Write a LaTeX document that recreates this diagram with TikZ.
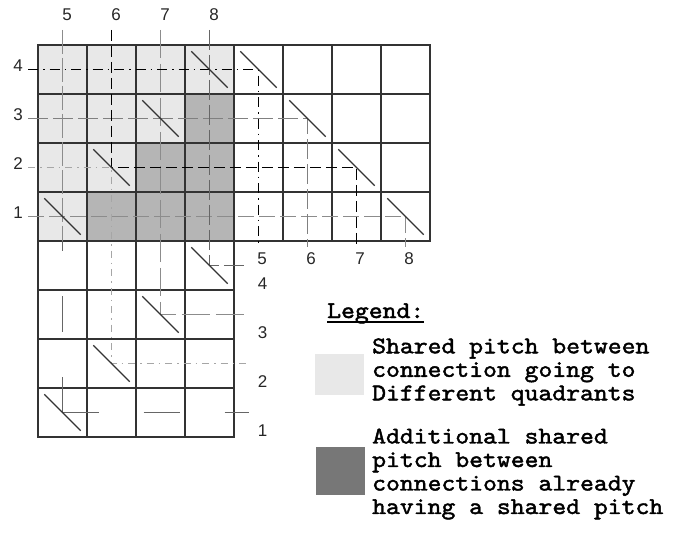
\documentclass[tikz,border=0pt]{standalone}
\usepackage{fontspec}
\usetikzlibrary{positioning}
\newfontfamily\pinfont{Liberation Sans}
\newfontfamily\legendfont[FakeBold=1.8, FakeStretch=1.1]{lmmono10-regular.otf}
\definecolor{gridcol}{HTML}{333333}
\definecolor{lightpitch}{HTML}{E8E8E8}
\definecolor{darkpitch}{HTML}{B5B5B5}
\definecolor{legenddark}{HTML}{777777}

\begin{document}
\begin{tikzpicture}[
    x=1pt, y=-1pt,
    cell/.style={draw=gridcol, line width=1.4pt, line cap=rect},
    via/.style={draw=gridcol, line width=1.1pt},
    pin/.style={font=\pinfont\fontsize{17}{17}\selectfont, inner sep=0pt, text=black!85},
    legtext/.style={font=\legendfont\fontsize{24}{23.5}\selectfont, align=left, inner sep=0pt},
    swatch/.style={minimum width=49pt, inner sep=0pt},
    routeA/.style={draw=black!45, line width=1.3pt, dash pattern=on 24pt off 4pt},
    routeAfar/.style={draw=black!60, line width=1.3pt, dash pattern=on 36pt off 45pt},
    routeB/.style={draw=black, line width=1.5pt, dash pattern=on 11pt off 5pt},
    routeC/.style={draw=black, line width=1.3pt, dash pattern=on 10pt off 5pt on 1.5pt off 5pt},
    routeD/.style={draw=black!50, line width=1.2pt, dash pattern=on 20pt off 5pt},
    routeE/.style={draw=black!35, line width=1pt, dash pattern=on 7pt off 5pt on 1.5pt off 5pt},
    routeF/.style={draw=black!45, line width=1.2pt, dash pattern=on 16pt off 5pt},
    routeG/.style={draw=black!45, line width=1.3pt, dash pattern=on 28pt off 6pt},
    routeH/.style={draw=black!60, line width=1.3pt, dash pattern=on 20pt off 5pt}
]
\useasboundingbox (0,0) rectangle (686,533);

% pin grid, one unit = one pitch
\begin{scope}[xshift=38pt, yshift=-45pt, x=49pt, y=-49pt]
\fill[lightpitch] (0,0) rectangle (4,4);
\foreach \c/\r in {4/2,4/3,4/4,3/3,3/4,2/4}
    \fill[darkpitch] ({\c-1},{\r-1}) rectangle (\c,\r);

\foreach \i in {0,...,8} \draw[cell] (\i,0) -- (\i,4);
\foreach \j in {0,...,4} \draw[cell] (0,\j) -- (8,\j);
\foreach \i in {0,...,4} \draw[cell] (\i,4) -- (\i,8);
\foreach \j in {5,...,8} \draw[cell] (0,\j) -- (4,\j);

% connection ends
\foreach \n/\x in {5/0.5,6/1.5,7/2.5,8/3.5} {
    \coordinate (t\n) at (\x,-0.31);
    \node[pin] (lt\n) at ([shift={(4.5pt,15pt)}]t\n) {\n};
}
\foreach \n/\y in {4/0.5,3/1.5,2/2.5,1/3.5} {
    \coordinate (l\n) at (-0.2,\y);
    \node[pin] (ll\n) at ([shift={(-10pt,4pt)}]l\n) {\n};
}
\foreach \n/\x in {5/4.5,6/5.5,7/6.5,8/7.5} {
    \coordinate (b\n) at (\x,4.12);
    \node[pin] (lb\n) at ([shift={(3.5pt,-12pt)}]b\n) {\n};
}
\foreach \n/\y in {4/4.5,3/5.5,2/6.5,1/7.5} {
    \coordinate (r\n) at (4.3,\y);
    \node[pin] (lr\n) at ([shift={(14pt,-18.5pt)}]r\n) {\n};
}

% bends
\coordinate (k5) at (0.5,4);
\coordinate (k1) at (0.5,7.5);
\coordinate (k6) at (6.5,2.5);
\coordinate (k2) at (1.5,6.5);

\draw[routeE] (l2) -| (k2) -- (r2);
\draw[routeF] (l1) -| (b8);
\draw[routeD] (l3) -| (b6);
\draw[routeG] (t7) |- (r3);
\draw[routeH] (t8) |- (r4);
\draw[routeA] (t5) -- (k5);
\draw[routeAfar] (k1) -- (k5);
\draw[routeAfar] (k1) -- (r1);
\draw[routeC] (l4) -| (b5);
\draw[routeB] (t6) |- (k6) -- (b7);

\foreach \c/\r in {1/4,2/3,3/2,4/1,5/1,6/2,7/3,8/4,4/5,3/6,2/7,1/8}
    \draw[via] ({\c-0.87},{\r-0.87}) -- ({\c-0.13},{\r-0.13});
\end{scope}

% legend
\node[legtext, anchor=base west] (legtitle) at (327,318) {Legend:};
\draw[line width=1.5pt] ([yshift=-4pt]legtitle.base west) -- ([yshift=-4pt]legtitle.base east);

\node[swatch, fill=lightpitch, minimum height=41pt] (sw1) at (339.5,374.5) {};
\node[legtext, anchor=west] (txt1) at (372,372) {Shared pitch between\\connection going to\\Different quadrants};

\node[swatch, fill=legenddark, minimum height=48pt] (sw2) at (340,471) {};
\node[legtext, anchor=west] (txt2) at (372,474) {Additional shared\\pitch between\\connections already\\having a shared pitch};
\end{tikzpicture}
\end{document}
